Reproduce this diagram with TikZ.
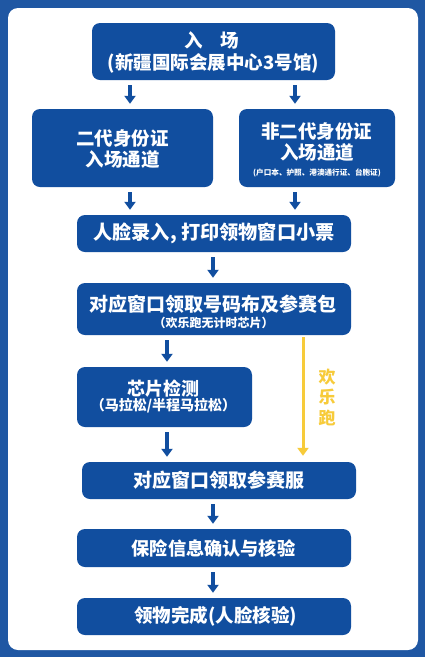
\documentclass[tikz,border=0pt]{standalone}
\usepackage{fontspec}
\newfontfamily\cjk{Noto Sans CJK SC}
\usetikzlibrary{arrows.meta}
\definecolor{outerblue}{HTML}{1F57A3}
\definecolor{boxblue}{HTML}{114E9F}
\definecolor{runyellow}{HTML}{F7CB3A}
\begin{document}
\begin{tikzpicture}[x=1pt,y=-1pt,
  box/.style={fill=boxblue, rounded corners=8pt, inner sep=0pt, draw=none},
  txt/.style={text=white, inner sep=0pt},
  arr/.style={-{Triangle[width=11pt,length=8pt]}, line width=3.2pt, draw=boxblue, shorten <=5pt, shorten >=5pt},
  yarr/.style={-{Triangle[width=11pt,length=8pt]}, line width=3pt, draw=runyellow, shorten <=2pt, shorten >=6pt}]
\useasboundingbox (0,0) rectangle (425,657);
\fill[outerblue] (0,0) rectangle (425,657);
\fill[white, rounded corners=10pt] (8,8) rectangle (418,650);
% boxes
\node[box, minimum width=243pt, minimum height=57pt] (b1) at (213.5,51.5) {};
\node[box, minimum width=181pt, minimum height=78pt] (b2) at (122.5,148) {};
\node[box, minimum width=156pt, minimum height=78pt] (b3) at (317,148) {};
\node[box, minimum width=274pt, minimum height=37pt] (b4) at (214,233.5) {};
\node[box, minimum width=274pt, minimum height=52pt] (b5) at (214,309) {};
\node[box, minimum width=175pt, minimum height=60pt] (b6) at (164.5,397) {};
\node[box, minimum width=274pt, minimum height=37pt] (b7) at (219,480.5) {};
\node[box, minimum width=274pt, minimum height=38pt] (b8) at (214,548) {};
\node[box, minimum width=274pt, minimum height=37pt] (b9) at (214,616.5) {};
% texts
\node[txt, font=\cjk\bfseries\fontsize{18.5}{20}\selectfont] (t1a) at (212,40) {入\hspace{0.95em}场};
\node[txt, font=\cjk\bfseries\fontsize{18.5}{20}\selectfont] (t1b) at (213.5,63) {(新疆国际会展中心3号馆)};
\node[txt, font=\cjk\bfseries\fontsize{18.5}{20}\selectfont] (t2a) at (122.5,138) {二代身份证};
\node[txt, font=\cjk\bfseries\fontsize{18.5}{20}\selectfont] (t2b) at (122.5,159) {入场通道};
\node[txt, font=\cjk\bfseries\fontsize{18.5}{20}\selectfont] (t3a) at (316.5,131) {非二代身份证};
\node[txt, font=\cjk\bfseries\fontsize{18.5}{20}\selectfont] (t3b) at (317,152) {入场通道};
\node[txt, font=\cjk\bfseries\fontsize{7.6}{9}\selectfont] (t3c) at (317,173) {(户口本、护照、港澳通行证、台胞证)};
\node[txt, font=\cjk\bfseries\fontsize{19.2}{22}\selectfont] (t4) at (214,233.5) {人脸录入, 打印领物窗口小票};
\node[txt, font=\cjk\bfseries\fontsize{19}{22}\selectfont] (t5a) at (213,304) {对应窗口领取号码布及参赛包};
\node[txt, font=\cjk\bfseries\fontsize{12}{14}\selectfont] (t5b) at (213.5,323) {（欢乐跑无计时芯片）};
\node[txt, font=\cjk\bfseries\fontsize{18}{20}\selectfont] (t6a) at (163.5,389) {芯片检测};
\node[txt, font=\cjk\bfseries\fontsize{14}{16}\selectfont] (t6b) at (163.5,406) {（马拉松/半程马拉松）};
\node[txt, font=\cjk\bfseries\fontsize{19}{21}\selectfont] (t7) at (219,480.5) {对应窗口领取参赛服};
\node[txt, font=\cjk\bfseries\fontsize{18.2}{20}\selectfont] (t8) at (213.5,548) {保险信息确认与核验};
\node[txt, font=\cjk\bfseries\fontsize{18.5}{20}\selectfont] (t9) at (215.5,616.5) {领物完成(人脸核验)};
\node[inner sep=0pt, text=runyellow, align=center, font=\cjk\bfseries\fontsize{17}{20.5}\selectfont] (lbl) at (327,397) {欢\\乐\\跑};
% arrow x positions
\coordinate (xa) at (130,0);
\coordinate (xb) at (295,0);
\coordinate (xc) at (213,0);
\coordinate (xd) at (167,0);
\coordinate (xy) at (303,0);
% arrows
\draw[arr] (b1.south -| xa) -- (b2.north -| xa);
\draw[arr] (b1.south -| xb) -- (b3.north -| xb);
\draw[arr] (b2.south -| xa) -- (b4.north -| xa);
\draw[arr] (b3.south -| xb) -- (b4.north -| xb);
\draw[arr] (b4.south -| xc) -- (b5.north -| xc);
\draw[arr] (b5.south -| xd) -- (b6.north -| xd);
\draw[arr] (b6.south -| xd) -- (b7.north -| xd);
\draw[arr] (b7.south -| xc) -- (b8.north -| xc);
\draw[arr] (b8.south -| xc) -- (b9.north -| xc);
\draw[yarr] (b5.south -| xy) -- (b7.north -| xy);
\end{tikzpicture}
\end{document}
